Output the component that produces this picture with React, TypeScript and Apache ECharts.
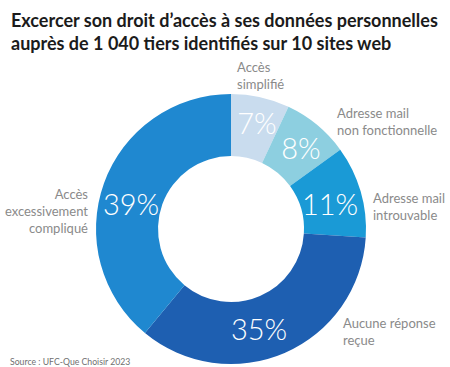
import React, { useEffect, useRef } from "react";
import * as echarts from "echarts";

const categories = [
  "Accès\nsimplifié",
  "Adresse mail\nnon fonctionnelle",
  "Adresse mail\nintrouvable",
  "Aucune réponse\nreçue",
  "Accès\nexcessivement\ncompliqué",
];
const values = [7, 8, 11, 35, 39];
const colors = ["#c9dcee", "#8dcfe0", "#1a9ad6", "#1e5fb1", "#1f88d0"];

const titleText =
  "Excercer son droit d’accès à ses données personnelles\nauprès de 1 040 tiers identifiés sur 10 sites web";
const sourceText = "Source : UFC-Que Choisir 2023";

// label anchor points (pixels)
const pctLabelPos: [number, number][] = [
  [257, 122],
  [301, 147],
  [330, 203],
  [259, 328],
  [131, 203],
];
const nameLabelPos: [number, number, string][] = [
  [237, 75, "left"],
  [337, 121, "left"],
  [373, 206, "left"],
  [343, 331, "left"],
  [88, 211, "right"],
];

export default function App() {
  const ref = useRef<HTMLDivElement>(null);
  useEffect(() => {
    document.body.style.margin = "0";
    const chart = echarts.init(ref.current!, null, { renderer: "svg" });
    const data = categories.map((c, i) => ({
      name: c,
      value: values[i],
      itemStyle: { color: colors[i] },
    }));
    chart.setOption({
      animation: false,
      backgroundColor: "#ffffff",
      title: [
        {
          text: titleText,
          left: 6,
          top: 3,
          textStyle: {
            fontFamily: "Lato",
            fontSize: 18,
            fontWeight: 700,
            lineHeight: 23,
            color: "#1b1b1b",
          },
        },
        {
          text: sourceText,
          left: 5,
          top: 352,
          textStyle: {
            fontFamily: "Lato",
            fontSize: 8.7,
            fontWeight: 400,
            color: "#707070",
          },
        },
      ],
      series: [
        {
          type: "pie",
          center: [231, 229],
          radius: [73, 135],
          startAngle: 90,
          clockwise: true,
          silent: true,
          data,
          label: {
            show: true,
            position: "inside",
            formatter: "{c}%",
            color: "#ffffff",
            fontFamily: "Lato",
            fontWeight: 300,
            fontSize: 29,
            overflow: "none",
          },
          labelLine: { show: false },
          labelLayout: (p: any) => ({
            x: pctLabelPos[p.dataIndex][0],
            y: pctLabelPos[p.dataIndex][1],
            align: "center",
            verticalAlign: "middle",
          }),
        },
        {
          type: "pie",
          center: [231, 229],
          radius: [73, 135],
          startAngle: 90,
          clockwise: true,
          silent: true,
          data: categories.map((c, i) => ({ name: c, value: values[i] })),
          itemStyle: { color: "rgba(0,0,0,0)" },
          label: {
            show: true,
            position: "outside",
            formatter: "{b}",
            color: "#8a8a8a",
            fontFamily: "Lato",
            fontSize: 13,
            lineHeight: 17,
            overflow: "none",
            width: 200,
          },
          labelLine: { show: false },
          labelLayout: (p: any) => ({
            x: nameLabelPos[p.dataIndex][0],
            y: nameLabelPos[p.dataIndex][1],
            align: nameLabelPos[p.dataIndex][2],
            verticalAlign: "middle",
          }),
        },
      ],
    });
    return () => chart.dispose();
  }, []);
  return <div ref={ref} style={{ width: 450, height: 367 }} />;
}
